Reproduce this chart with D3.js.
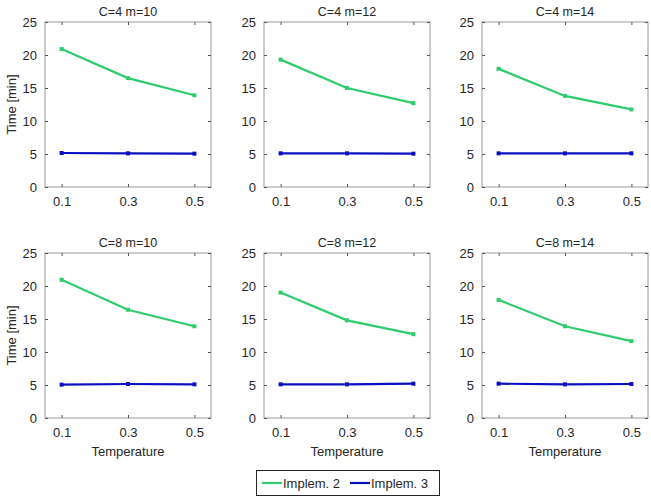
<!DOCTYPE html>
<html>
<head>
<meta charset="utf-8">
<script src="https://cdn.jsdelivr.net/npm/d3@7"></script>
<style>
  body { margin: 0; background: #fff; }
  text { font-family: "Liberation Sans", Arial, sans-serif; fill: #262626; }
</style>
</head>
<body>
<svg id="graph" width="651" height="497"></svg>
<script>
// Panel titles, in row order
var titles = ["C=4 m=10", "C=4 m=12", "C=4 m=14", "C=8 m=10", "C=8 m=12", "C=8 m=14"];

// Temperatures on the x axis
var temps = [0.1, 0.3, 0.5];

// Time [min] for each panel, one row per panel
var impl2 = [
    [20.9, 16.5, 13.9],
    [19.3, 15.0, 12.7],
    [17.9, 13.8, 11.75],
    [20.95, 16.4, 13.9],
    [19.0, 14.8, 12.7],
    [17.9, 13.9, 11.65]
];
var impl3 = [
    [5.15, 5.1, 5.05],
    [5.1, 5.1, 5.05],
    [5.1, 5.1, 5.1],
    [5.05, 5.15, 5.1],
    [5.1, 5.1, 5.2],
    [5.2, 5.1, 5.15]
];

var seriesNames = ["Implem. 2", "Implem. 3"];
var colors = ["#2ecc6c", "#0a10c0"];

var xTicks = [0.1, 0.3, 0.5];
var yTicks = [0, 5, 10, 15, 20, 25];

var svg = d3.select("#graph");

// Panel placement
var lefts = [45, 264, 482], tops = [22, 253];
var pw = 166, ph = 165;

for ( var i = 0; i < titles.length; ++i ) {
    var col = i % 3, row = Math.floor(i / 3);
    var x0 = lefts[col], y0 = tops[row];

    var xScale = d3.scaleLinear().domain([0.05, 0.55]).range([x0, x0 + pw]);
    var yScale = d3.scaleLinear().domain([0, 25]).range([y0 + ph, y0]);

    var g = svg.append("g");

    // Box
    g.append("rect")
        .attr("x", x0).attr("y", y0).attr("width", pw).attr("height", ph)
        .attr("fill", "none").attr("stroke", "#9a9a9a").attr("stroke-width", 1);

    // Axes with inward ticks
    var xAxis = d3.axisBottom(xScale).tickValues(xTicks).tickFormat(d3.format(".1f"))
        .tickSizeInner(-3).tickSizeOuter(0).tickPadding(10);
    var yAxis = d3.axisLeft(yScale).tickValues(yTicks)
        .tickSizeInner(-3).tickSizeOuter(0).tickPadding(8);
    var xTop = d3.axisTop(xScale).tickValues(xTicks).tickFormat("").tickSizeInner(-3).tickSizeOuter(0);
    var yRight = d3.axisRight(yScale).tickValues(yTicks).tickFormat("").tickSizeInner(-3).tickSizeOuter(0);

    var axes = [
        [xAxis, "translate(0," + (y0 + ph) + ")"],
        [yAxis, "translate(" + x0 + ",0)"],
        [xTop, "translate(0," + y0 + ")"],
        [yRight, "translate(" + (x0 + pw) + ",0)"]
    ];
    axes.forEach(function(a) {
        var ag = g.append("g").attr("transform", a[1]).call(a[0]);
        ag.select(".domain").remove();
        ag.selectAll("line").attr("stroke", "#555");
        ag.selectAll("text").style("font-size", "13px")
            .style("font-family", "Liberation Sans, Arial, sans-serif").attr("fill", "#262626");
    });

    // Title
    g.append("text")
        .attr("x", x0 + pw / 2).attr("y", y0 - 6)
        .attr("text-anchor", "middle").style("font-size", "12.5px")
        .text(titles[i]);

    if ( col == 0 ) {
        g.append("text")
            .attr("transform", "translate(" + 16 + "," + (y0 + ph / 2) + ") rotate(-90)")
            .attr("text-anchor", "middle").style("font-size", "13px")
            .text("Time [min]");
    }
    if ( row == 1 ) {
        g.append("text")
            .attr("x", x0 + pw / 2).attr("y", y0 + ph + 38)
            .attr("text-anchor", "middle").style("font-size", "13px")
            .text("Temperature");
    }

    // Lines with small square markers
    var data = [impl2[i], impl3[i]];
    data.forEach(function(vals, k) {
        var points = temps.map(function(t, j) { return [t, vals[j]]; });
        g.append("path").datum(points)
            .attr("fill", "none")
            .attr("stroke", colors[k])
            .attr("stroke-width", 2.2)
            .attr("d", d3.line().x(p => xScale(p[0])).y(p => yScale(p[1])));
        g.selectAll(null).data(points).enter().append("rect")
            .attr("x", p => xScale(p[0]) - 2)
            .attr("y", p => yScale(p[1]) - 2)
            .attr("width", 4).attr("height", 4)
            .attr("fill", colors[k]);
    });
}

// Legend
var leg = svg.append("g");
leg.append("rect")
    .attr("x", 256.5).attr("y", 470.5).attr("width", 183).attr("height", 25)
    .attr("fill", "#fff").attr("stroke", "#262626").attr("stroke-width", 1);
var legX = [262, 350];
seriesNames.forEach(function(name, k) {
    leg.append("line")
        .attr("x1", legX[k]).attr("x2", legX[k] + 20)
        .attr("y1", 483).attr("y2", 483)
        .attr("stroke", colors[k]).attr("stroke-width", 2.2);
    leg.append("text")
        .attr("x", legX[k] + 21).attr("y", 487.5)
        .style("font-size", "13px")
        .text(name);
});
</script>
</body>
</html>
